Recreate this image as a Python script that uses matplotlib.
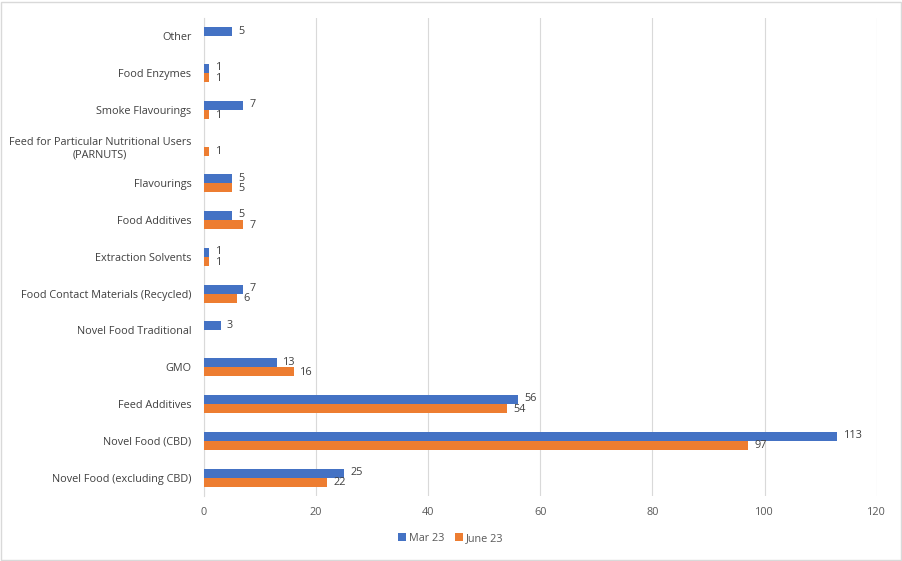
import numpy as np
import matplotlib.pyplot as plt
from matplotlib.patches import Rectangle

plt.rcParams['font.family'] = ['Open Sans', 'DejaVu Sans']

# categories listed bottom to top
categories = ['Novel Food (excluding CBD)', 'Novel Food (CBD)', 'Feed Additives', 'GMO',
              'Novel Food Traditional', 'Food Contact Materials (Recycled)', 'Extraction Solvents',
              'Food Additives', 'Flavourings', 'Feed for Particular Nutritional Users\n(PARNUTS)',
              'Smoke Flavourings', 'Food Enzymes', 'Other']
mar23 = [25, 113, 56, 13, 3, 7, 1, 5, 5, np.nan, 7, 1, 5]
june23 = [22, 97, 54, 16, np.nan, 6, 1, 7, 5, 1, 1, 1, np.nan]
x_ticks = [0, 20, 40, 60, 80, 100, 120]

blue = '#4472C4'
orange = '#ED7D31'
fs = 7.8

fig = plt.figure(figsize=(9.02, 5.61), dpi=100)
ax = fig.add_axes([0.226, 0.116, 0.746, 0.852])

y = np.arange(len(categories))
h = 0.245
ax.barh(y + h / 2, mar23, height=h, color=blue, label='Mar 23', zorder=3)
ax.barh(y - h / 2, june23, height=h, color=orange, label='June 23', zorder=3)

# data labels
for yi, v in zip(y, mar23):
    if not np.isnan(v):
        ax.annotate(str(int(v)), (v, yi + h / 2), xytext=(4.5, 0.5), textcoords='offset points',
                    ha='left', va='center', fontsize=fs, color='#404040')
for yi, v in zip(y, june23):
    if not np.isnan(v):
        ax.annotate(str(int(v)), (v, yi - h / 2), xytext=(4.5, -0.5), textcoords='offset points',
                    ha='left', va='center', fontsize=fs, color='#404040')

ax.set_xlim(0, 120)
ax.set_ylim(-0.5, len(categories) - 0.5)
ax.set_xticks(x_ticks)
ax.set_xticklabels([str(t) for t in x_ticks], fontsize=fs, color='#595959')
ax.set_yticks(y)
ax.set_yticklabels(categories, fontsize=fs, color='#404040', ha='right', multialignment='center')
ax.tick_params(axis='y', length=0, pad=9)
ax.tick_params(axis='x', length=0, pad=8)
ax.grid(axis='x', color='#D9D9D9', linewidth=0.8, zorder=0)
for s in ['top', 'right', 'bottom']:
    ax.spines[s].set_visible(False)
ax.spines['left'].set_color('#D9D9D9')
ax.spines['left'].set_linewidth(0.8)

leg = fig.legend(loc='center', bbox_to_anchor=(0.5, 0.04), ncol=2, frameon=False,
                 fontsize=fs, handlelength=0.7, handleheight=0.7, handletextpad=0.3,
                 columnspacing=1.0)
for t in leg.get_texts():
    t.set_color('#595959')

# outer chart border
fig.patches.append(Rectangle((0.0015, 0.002), 0.997, 0.995, transform=fig.transFigure,
                             fill=False, edgecolor='#D9D9D9', linewidth=1))

fig.savefig('out.png', dpi=100)
